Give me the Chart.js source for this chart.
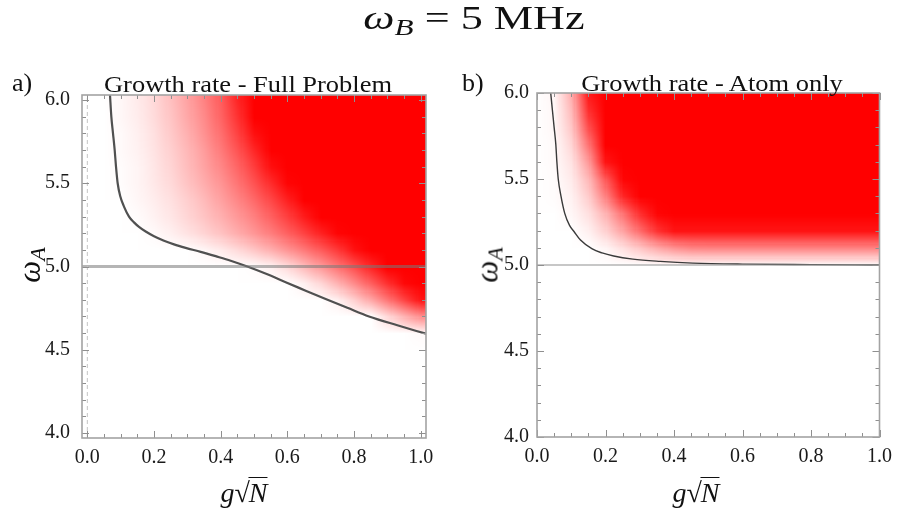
<!DOCTYPE html>
<html lang="en">
  <head>
    <meta charset="utf-8" />
    <title>Growth rate density plots</title>
    <script src="https://cdn.jsdelivr.net/npm/chart.js@4.4.1/dist/chart.umd.min.js"></script>
    <style>
      * { margin: 0; padding: 0; box-sizing: border-box; }
      body { background: #ffffff; width: 900px; height: 514px; overflow: hidden; }
      #wrap { position: relative; width: 900px; height: 514px; font-family: "Liberation Serif", "Times New Roman", serif; color: #111; }
      canvas { position: absolute; top: 0; }
      .txt { position: absolute; line-height: 1; white-space: nowrap; }
      .rad { display: inline-block; border-top: 1.4px solid #111; padding-top: 1px; margin-left: -1px; }
    </style>
  </head>
  <body>
    <div id="wrap">
      <canvas id="panelA" width="450" height="514" style="left:0"></canvas>
      <canvas id="panelB" width="450" height="514" style="left:450px"></canvas>

      <div class="txt" id="mainTitle" style="left:474px; top:1px; font-size:34px; transform:translateX(-50%) scaleX(1.3);">
        <i>ω</i><sub style="font-size:24px; vertical-align:-6px;"><i>B</i></sub> = 5 MHz
      </div>
      <div class="txt" style="left:12px; top:70px; font-size:26px;">a)</div>
      <div class="txt" style="left:462px; top:70px; font-size:26px;">b)</div>
      <div class="txt" style="left:248px; top:73px; font-size:23px; transform:translateX(-50%) scaleX(1.15);">Growth rate - Full Problem</div>
      <div class="txt" style="left:712px; top:72px; font-size:23px; transform:translateX(-50%) scaleX(1.15);">Growth rate - Atom only</div>

      <div class="txt" style="left:31px; top:265px; font-size:31px; transform:translate(-50%,-50%) rotate(-90deg);">
        <i>ω</i><sub style="font-size:22px; vertical-align:-5px;"><i>A</i></sub>
      </div>
      <div class="txt" style="left:489px; top:265px; font-size:31px; transform:translate(-50%,-50%) rotate(-90deg);">
        <i>ω</i><sub style="font-size:22px; vertical-align:-5px;"><i>A</i></sub>
      </div>

      <div class="txt" style="left:244px; top:477px; font-size:28px; transform:translateX(-50%);">
        <i>g</i>√<span class="rad"><i>N</i></span>
      </div>
      <div class="txt" style="left:696px; top:477px; font-size:28px; transform:translateX(-50%);">
        <i>g</i>√<span class="rad"><i>N</i></span>
      </div>
    </div>

    <script>
      // grid of the density plots (g*sqrt(N) across, omega_A down)
      const gridX = [0, 0.05, 0.1, 0.15, 0.2, 0.25, 0.3, 0.35, 0.4, 0.45, 0.5, 0.55, 0.6, 0.65, 0.7, 0.75, 0.8, 0.85, 0.9, 0.95, 1.0];
      const gridY = [6.0, 5.9, 5.8, 5.7, 5.6, 5.5, 5.4, 5.3, 5.2, 5.1, 5.0, 4.9, 4.8, 4.7, 4.6, 4.5, 4.4, 4.3, 4.2, 4.1, 4.0];

      const xTicks = [0.0, 0.2, 0.4, 0.6, 0.8, 1.0];
      const yTicks = [4.0, 4.5, 5.0, 5.5, 6.0];

      // growth rate, 0 = white, 100 = full red, one row per gridY
      const rateA = [
        [0, 0, 3, 8, 15, 25, 36, 49, 64, 85, 100, 100, 100, 100, 100, 100, 100, 100, 100, 100, 100],
        [0, 0, 3, 7, 14, 23, 34, 46, 61, 80, 100, 100, 100, 100, 100, 100, 100, 100, 100, 100, 100],
        [0, 0, 2, 6, 12, 21, 31, 43, 57, 74, 94, 100, 100, 100, 100, 100, 100, 100, 100, 100, 100],
        [0, 0, 2, 5, 11, 19, 28, 39, 52, 67, 85, 100, 100, 100, 100, 100, 100, 100, 100, 100, 100],
        [0, 0, 1, 4, 10, 17, 26, 36, 47, 60, 76, 94, 100, 100, 100, 100, 100, 100, 100, 100, 100],
        [0, 0, 1, 4, 9, 15, 23, 32, 42, 54, 68, 83, 98, 100, 100, 100, 100, 100, 100, 100, 100],
        [0, 0, 0, 3, 7, 12, 19, 27, 37, 47, 59, 72, 87, 100, 100, 100, 100, 100, 100, 100, 100],
        [0, 0, 0, 1, 5, 10, 16, 23, 31, 40, 50, 62, 75, 89, 100, 100, 100, 100, 100, 100, 100],
        [0, 0, 0, 0, 2, 6, 11, 17, 24, 32, 41, 51, 62, 74, 87, 98, 100, 100, 100, 100, 100],
        [0, 0, 0, 0, 0, 0, 0, 3, 8, 14, 22, 31, 41, 52, 64, 77, 93, 100, 100, 100, 100],
        [0, 0, 0, 0, 0, 0, 0, 0, 0, 0, 1, 5, 14, 27, 40, 54, 69, 86, 100, 100, 100],
        [0, 0, 0, 0, 0, 0, 0, 0, 0, 0, 0, 0, 0, 6, 16, 30, 46, 63, 81, 97, 100],
        [0, 0, 0, 0, 0, 0, 0, 0, 0, 0, 0, 0, 0, 0, 0, 5, 18, 34, 53, 73, 92],
        [0, 0, 0, 0, 0, 0, 0, 0, 0, 0, 0, 0, 0, 0, 0, 0, 0, 0, 15, 30, 44],
        [0, 0, 0, 0, 0, 0, 0, 0, 0, 0, 0, 0, 0, 0, 0, 0, 0, 0, 0, 0, 2],
        [0, 0, 0, 0, 0, 0, 0, 0, 0, 0, 0, 0, 0, 0, 0, 0, 0, 0, 0, 0, 0],
        [0, 0, 0, 0, 0, 0, 0, 0, 0, 0, 0, 0, 0, 0, 0, 0, 0, 0, 0, 0, 0],
        [0, 0, 0, 0, 0, 0, 0, 0, 0, 0, 0, 0, 0, 0, 0, 0, 0, 0, 0, 0, 0],
        [0, 0, 0, 0, 0, 0, 0, 0, 0, 0, 0, 0, 0, 0, 0, 0, 0, 0, 0, 0, 0],
        [0, 0, 0, 0, 0, 0, 0, 0, 0, 0, 0, 0, 0, 0, 0, 0, 0, 0, 0, 0, 0],
        [0, 0, 0, 0, 0, 0, 0, 0, 0, 0, 0, 0, 0, 0, 0, 0, 0, 0, 0, 0, 0],
      ];

      const rateB = [
        [0, 4, 32, 90, 100, 100, 100, 100, 100, 100, 100, 100, 100, 100, 100, 100, 100, 100, 100, 100, 100],
        [0, 3, 27, 82, 100, 100, 100, 100, 100, 100, 100, 100, 100, 100, 100, 100, 100, 100, 100, 100, 100],
        [0, 3, 22, 70, 100, 100, 100, 100, 100, 100, 100, 100, 100, 100, 100, 100, 100, 100, 100, 100, 100],
        [0, 2, 16, 55, 100, 100, 100, 100, 100, 100, 100, 100, 100, 100, 100, 100, 100, 100, 100, 100, 100],
        [0, 2, 11, 40, 92, 100, 100, 100, 100, 100, 100, 100, 100, 100, 100, 100, 100, 100, 100, 100, 100],
        [0, 1, 8, 28, 66, 98, 100, 100, 100, 100, 100, 100, 100, 100, 100, 100, 100, 100, 100, 100, 100],
        [0, 1, 5, 20, 50, 85, 100, 100, 100, 100, 100, 100, 100, 100, 100, 100, 100, 100, 100, 100, 100],
        [0, 0, 3, 12, 30, 55, 82, 98, 100, 100, 100, 100, 100, 100, 100, 100, 100, 100, 100, 100, 100],
        [0, 0, 0, 6, 18, 36, 58, 80, 92, 92, 92, 92, 92, 92, 92, 92, 92, 92, 92, 92, 92],
        [0, 0, 0, 0, 4, 12, 22, 33, 42, 47, 48, 48, 48, 48, 48, 48, 48, 48, 48, 48, 48],
        [0, 0, 0, 0, 0, 0, 0, 0, 0, 0, 0, 0, 0, 0, 0, 0, 0, 0, 0, 0, 0],
        [0, 0, 0, 0, 0, 0, 0, 0, 0, 0, 0, 0, 0, 0, 0, 0, 0, 0, 0, 0, 0],
        [0, 0, 0, 0, 0, 0, 0, 0, 0, 0, 0, 0, 0, 0, 0, 0, 0, 0, 0, 0, 0],
        [0, 0, 0, 0, 0, 0, 0, 0, 0, 0, 0, 0, 0, 0, 0, 0, 0, 0, 0, 0, 0],
        [0, 0, 0, 0, 0, 0, 0, 0, 0, 0, 0, 0, 0, 0, 0, 0, 0, 0, 0, 0, 0],
        [0, 0, 0, 0, 0, 0, 0, 0, 0, 0, 0, 0, 0, 0, 0, 0, 0, 0, 0, 0, 0],
        [0, 0, 0, 0, 0, 0, 0, 0, 0, 0, 0, 0, 0, 0, 0, 0, 0, 0, 0, 0, 0],
        [0, 0, 0, 0, 0, 0, 0, 0, 0, 0, 0, 0, 0, 0, 0, 0, 0, 0, 0, 0, 0],
        [0, 0, 0, 0, 0, 0, 0, 0, 0, 0, 0, 0, 0, 0, 0, 0, 0, 0, 0, 0, 0],
        [0, 0, 0, 0, 0, 0, 0, 0, 0, 0, 0, 0, 0, 0, 0, 0, 0, 0, 0, 0, 0],
        [0, 0, 0, 0, 0, 0, 0, 0, 0, 0, 0, 0, 0, 0, 0, 0, 0, 0, 0, 0, 0],
      ];

      // zero growth contours
      const contourA = [
        { x: 0.068, y: 6.03 }, { x: 0.072, y: 5.9 }, { x: 0.077, y: 5.8 }, { x: 0.082, y: 5.7 },
        { x: 0.086, y: 5.6 }, { x: 0.091, y: 5.5 }, { x: 0.099, y: 5.42 }, { x: 0.11, y: 5.36 },
        { x: 0.125, y: 5.3 }, { x: 0.14, y: 5.265 }, { x: 0.155, y: 5.238 }, { x: 0.175, y: 5.21 },
        { x: 0.2, y: 5.182 }, { x: 0.23, y: 5.155 }, { x: 0.26, y: 5.133 }, { x: 0.295, y: 5.112 },
        { x: 0.34, y: 5.088 }, { x: 0.385, y: 5.062 }, { x: 0.43, y: 5.035 }, { x: 0.48, y: 5.0 },
        { x: 0.54, y: 4.953 }, { x: 0.595, y: 4.905 }, { x: 0.655, y: 4.855 }, { x: 0.715, y: 4.805 },
        { x: 0.78, y: 4.752 }, { x: 0.845, y: 4.7 }, { x: 0.93, y: 4.647 }, { x: 1.016, y: 4.596 },
      ];
      const contourB = [
        { x: 0.04, y: 6.0 }, { x: 0.045, y: 5.9 }, { x: 0.05, y: 5.8 }, { x: 0.055, y: 5.7 },
        { x: 0.058, y: 5.6 }, { x: 0.062, y: 5.5 }, { x: 0.07, y: 5.4 }, { x: 0.081, y: 5.3 },
        { x: 0.095, y: 5.23 }, { x: 0.108, y: 5.195 }, { x: 0.127, y: 5.145 }, { x: 0.16, y: 5.095 },
        { x: 0.19, y: 5.07 }, { x: 0.224, y: 5.052 }, { x: 0.28, y: 5.034 }, { x: 0.36, y: 5.021 },
        { x: 0.455, y: 5.011 }, { x: 0.6, y: 5.005 }, { x: 0.8, y: 5.002 }, { x: 1.0, y: 5.0 },
      ];

      // reference lines: omega_A = omega_B and g = 0
      const resonanceA = [{ x: -0.016, y: 5.0 }, { x: 1.016, y: 5.0 }];
      const resonanceB = [{ x: 0, y: 5.0 }, { x: 1, y: 5.0 }];
      const zeroCoupling = [{ x: 0, y: 3.97 }, { x: 0, y: 6.03 }];

      // paints the grid as a smooth image placed with the chart scales
      function heatPlugin(rows) {
        return {
          id: "heat",
          beforeDatasetsDraw(chart) {
            const { ctx, chartArea, scales } = chart;
            const nx = gridX.length, ny = gridY.length;
            const off = document.createElement("canvas");
            off.width = nx;
            off.height = ny;
            const octx = off.getContext("2d");
            const img = octx.createImageData(nx, ny);
            for (let j = 0; j < ny; j++) {
              for (let i = 0; i < nx; i++) {
                const t = rows[j][i] / 100;
                const k = (j * nx + i) * 4;
                img.data[k] = 255;
                img.data[k + 1] = Math.round(255 * (1 - t));
                img.data[k + 2] = Math.round(255 * (1 - t));
                img.data[k + 3] = 255;
              }
            }
            octx.putImageData(img, 0, 0);
            const hx = (gridX[1] - gridX[0]) / 2;
            const hy = (gridY[0] - gridY[1]) / 2;
            const left = scales.x.getPixelForValue(gridX[0] - hx);
            const right = scales.x.getPixelForValue(gridX[nx - 1] + hx);
            const top = scales.y.getPixelForValue(gridY[0] + hy);
            const bottom = scales.y.getPixelForValue(gridY[ny - 1] - hy);
            ctx.save();
            ctx.beginPath();
            ctx.rect(chartArea.left, chartArea.top, chartArea.right - chartArea.left, chartArea.bottom - chartArea.top);
            ctx.clip();
            ctx.imageSmoothingEnabled = true;
            ctx.imageSmoothingQuality = "low";
            ctx.drawImage(off, left, top, right - left, bottom - top);
            ctx.restore();
          },
        };
      }

      // Mathematica-like frame with inward ticks on all four sides
      const framePlugin = {
        id: "frame",
        afterDatasetsDraw(chart) {
          const { ctx, chartArea: a, scales } = chart;
          ctx.save();
          ctx.strokeStyle = "#8f8f8f";
          ctx.lineWidth = 1;
          ctx.beginPath();
          for (let i = 0; i <= 20; i++) {
            const v = i * 0.05;
            const px = Math.round(scales.x.getPixelForValue(v)) + 0.5;
            const len = i % 4 === 0 ? 7 : 4;
            ctx.moveTo(px, a.bottom); ctx.lineTo(px, a.bottom - len);
            ctx.moveTo(px, a.top); ctx.lineTo(px, a.top + len);
          }
          for (let i = 0; i <= 20; i++) {
            const v = 4 + i * 0.1;
            const py = Math.round(scales.y.getPixelForValue(v)) + 0.5;
            const len = i % 5 === 0 ? 7 : 4;
            ctx.moveTo(a.left, py); ctx.lineTo(a.left + len, py);
            ctx.moveTo(a.right, py); ctx.lineTo(a.right - len, py);
          }
          ctx.stroke();
          ctx.strokeStyle = "#a3a3a3";
          ctx.lineWidth = 1.6;
          ctx.strokeRect(a.left, a.top, a.right - a.left, a.bottom - a.top);
          ctx.restore();
        },
      };

      const tickFont = { family: "Liberation Serif", size: 20 };

      function makePanel(id, p) {
        return new Chart(document.getElementById(id), {
          type: "scatter",
          data: { datasets: p.datasets },
          options: {
            responsive: false,
            animation: false,
            events: [],
            layout: { padding: { top: p.top, right: p.right, left: 0, bottom: 0 } },
            plugins: { legend: { display: false }, tooltip: { enabled: false } },
            scales: {
              x: {
                type: "linear",
                min: p.xMin,
                max: p.xMax,
                grid: { display: false, drawTicks: false },
                border: { display: false },
                afterBuildTicks: (s) => { s.ticks = xTicks.map((v) => ({ value: v })); },
                afterFit: (s) => { s.height = p.xAxisH; },
                ticks: {
                  font: tickFont, color: "#1a1a1a", padding: 8, maxRotation: 0, autoSkip: false,
                  callback: (v) => Number(v).toFixed(1),
                },
              },
              y: {
                type: "linear",
                min: p.yMin,
                max: p.yMax,
                grid: { display: false, drawTicks: false },
                border: { display: false },
                afterBuildTicks: (s) => { s.ticks = yTicks.map((v) => ({ value: v })); },
                afterFit: (s) => { s.width = p.yAxisW; },
                ticks: {
                  font: tickFont, color: "#1a1a1a", padding: p.yPad, autoSkip: false,
                  callback: (v) => Number(v).toFixed(1),
                },
              },
            },
          },
          plugins: [heatPlugin(p.rows), framePlugin],
        });
      }

      const lineSet = (data, color, width, dash, smooth) => ({
        data: data,
        showLine: true,
        borderColor: color,
        borderWidth: width,
        borderDash: dash || [],
        pointRadius: 0,
        fill: false,
        cubicInterpolationMode: smooth ? "monotone" : "default",
        tension: 0,
      });

      makePanel("panelA", {
        rows: rateA,
        xMin: -0.016, xMax: 1.016, yMin: 3.97, yMax: 6.03,
        top: 95, right: 24, yAxisW: 82, xAxisH: 76, yPad: 12,
        datasets: [
          lineSet(zeroCoupling, "#c4c4c4", 1, [4, 3]),
          lineSet(resonanceA, "rgba(120,120,120,0.55)", 3),
          lineSet(contourA, "#505050", 2.2, null, true),
        ],
      });

      makePanel("panelB", {
        rows: rateB,
        xMin: 0, xMax: 1, yMin: 4, yMax: 6,
        top: 93, right: 18, yAxisW: 87, xAxisH: 77, yPad: 8,
        datasets: [
          lineSet(resonanceB, "rgba(150,150,150,0.7)", 1.5),
          lineSet(contourB, "#3a3a3a", 1.4, null, true),
        ],
      });
    </script>
  </body>
</html>
